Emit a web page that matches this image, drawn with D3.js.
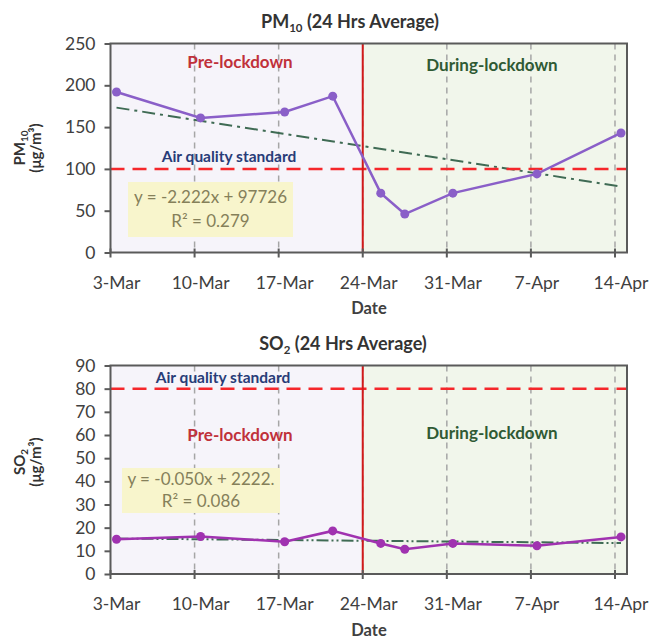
<!DOCTYPE html>
<html>
<head>
<meta charset="utf-8">
<script src="https://cdn.jsdelivr.net/npm/d3@7"></script>
<style>
  body { margin: 0; background: #fff; }
  svg { display: block; font-family: Lato, "Open Sans", sans-serif; }
</style>
</head>
<body>
<svg id="chart" width="653" height="641"></svg>
<script>
// ---- data ----
const dates = ["2020-03-03", "2020-03-10", "2020-03-17", "2020-03-21", "2020-03-25",
  "2020-03-27", "2020-03-31", "2020-04-07", "2020-04-14"];
const pm10Values = [192, 161, 168, 187, 71, 46, 71, 94, 143];
const so2Values = [15.0, 16.2, 13.9, 18.6, 13.2, 10.7, 13.2, 12.2, 16.0];

const tickDates = ["2020-03-03", "2020-03-10", "2020-03-17", "2020-03-24",
  "2020-03-31", "2020-04-07", "2020-04-14"];
const tickLabels = ["3-Mar", "10-Mar", "17-Mar", "24-Mar", "31-Mar", "7-Apr", "14-Apr"];
const axisStart = "2020-03-03";
const axisEnd = "2020-04-15";
const lockdownDate = "2020-03-24";

const pm10Ticks = [0, 50, 100, 150, 200, 250];
const so2Ticks = [0, 10, 20, 30, 40, 50, 60, 70, 80, 90];
const pm10Standard = 100;
const so2Standard = 80;
const pm10Equation = ["y = -2.222x + 97726", "R² = 0.279"];
const so2Equation = ["y = -0.050x + 2222.", "R² = 0.086"];

// ---- layout ----
const svg = d3.select("#chart");
const HALF_DAY = 12 * 3600 * 1000;
const parse = d3.utcParse("%Y-%m-%d");

const x = d3.scaleUtc()
  .domain([parse(axisStart), parse(axisEnd)])
  .range([110.5, 627]);

// least squares fit on the plotted points (Excel linear trendline)
function fitLine(xs, ys) {
  const mx = d3.mean(xs), my = d3.mean(ys);
  const sxy = d3.sum(xs, (v, i) => (v - mx) * (ys[i] - my));
  const sxx = d3.sum(xs, (v) => (v - mx) ** 2);
  const slope = sxy / sxx;
  return (v) => my + slope * (v - mx);
}

function drawPanel(cfg) {
  const g = svg.append("g");
  const y = d3.scaleLinear().domain([0, cfg.max]).range([cfg.bottom, cfg.top]);
  const left = x.range()[0], right = x.range()[1];
  const xLock = x(parse(lockdownDate));

  // shaded periods
  g.append("rect").attr("x", left).attr("y", cfg.top)
    .attr("width", xLock - left).attr("height", cfg.bottom - cfg.top)
    .attr("fill", "#f6f4fa");
  g.append("rect").attr("x", xLock).attr("y", cfg.top)
    .attr("width", right - xLock).attr("height", cfg.bottom - cfg.top)
    .attr("fill", "#f1f6eb");

  // weekly dashed gridlines
  g.selectAll("line.grid")
    .data(tickDates.slice(1))
    .join("line")
    .attr("class", "grid")
    .attr("x1", (d) => x(parse(d))).attr("x2", (d) => x(parse(d)))
    .attr("y1", cfg.top).attr("y2", cfg.bottom)
    .attr("stroke", "#a6a6a6").attr("stroke-width", 1.5)
    .attr("stroke-dasharray", "6,5");

  // equation box
  const box = g.append("g");
  box.append("rect")
    .attr("x", cfg.box[0]).attr("y", cfg.box[1])
    .attr("width", cfg.box[2]).attr("height", cfg.box[3])
    .attr("fill", "#f8f5cc");
  box.selectAll("text")
    .data(cfg.equation)
    .join("text")
    .attr("x", cfg.box[0] + cfg.box[2] / 2)
    .attr("y", (d, i) => cfg.box[1] + cfg.box[3] / 2 + (i - 0.5) * cfg.eqGap)
    .attr("dy", "0.35em")
    .attr("text-anchor", "middle")
    .attr("font-size", 17)
    .attr("fill", "#85805a")
    .text((d) => d);

  // trend line
  const px = dates.map((d) => +parse(d) + HALF_DAY);
  const trend = fitLine(px, cfg.values);
  const ends = [px[0], px[px.length - 1]];
  g.append("line")
    .attr("x1", x(ends[0])).attr("y1", y(trend(ends[0])))
    .attr("x2", x(ends[1])).attr("y2", y(trend(ends[1])))
    .attr("stroke", "#3f6b54").attr("stroke-width", 2)
    .attr("stroke-dasharray", cfg.trendDash);

  // standard line
  g.append("line")
    .attr("x1", left).attr("x2", right)
    .attr("y1", y(cfg.standard)).attr("y2", y(cfg.standard))
    .attr("stroke", "#f5272b").attr("stroke-width", 2.5)
    .attr("stroke-dasharray", "14,8");
  g.append("text")
    .attr("x", cfg.stdLabel[0]).attr("y", cfg.stdLabel[1])
    .attr("dy", "0.35em").attr("text-anchor", "middle")
    .attr("font-size", 15.5).attr("font-weight", "bold")
    .attr("fill", "#283c78")
    .text("Air quality standard");

  // lockdown line
  g.append("line")
    .attr("x1", xLock).attr("x2", xLock)
    .attr("y1", cfg.top).attr("y2", cfg.bottom)
    .attr("stroke", "#d11a1a").attr("stroke-width", 2);

  // period labels
  g.append("text")
    .attr("x", 240).attr("y", cfg.periodY[0])
    .attr("dy", "0.35em").attr("text-anchor", "middle")
    .attr("font-size", 17).attr("font-weight", "bold")
    .attr("fill", "#c0313a")
    .text("Pre-lockdown");
  g.append("text")
    .attr("x", 492).attr("y", cfg.periodY[1])
    .attr("dy", "0.35em").attr("text-anchor", "middle")
    .attr("font-size", 17).attr("font-weight", "bold")
    .attr("fill", "#2f5a34")
    .text("During-lockdown");

  // series
  const line = d3.line()
    .x((d, i) => x(px[i]))
    .y((d) => y(d));
  g.append("path")
    .datum(cfg.values)
    .attr("d", line)
    .attr("fill", "none")
    .attr("stroke", cfg.color).attr("stroke-width", 2.5);
  g.selectAll("circle.pt")
    .data(cfg.values)
    .join("circle")
    .attr("class", "pt")
    .attr("cx", (d, i) => x(px[i])).attr("cy", (d) => y(d))
    .attr("r", 4.5)
    .attr("fill", cfg.color);

  // frame
  g.append("rect")
    .attr("x", left).attr("y", cfg.top)
    .attr("width", right - left).attr("height", cfg.bottom - cfg.top)
    .attr("fill", "none").attr("stroke", "#5a5a5a").attr("stroke-width", 2);

  // y axis
  const yAxis = d3.axisLeft(y).tickValues(cfg.ticks).tickSize(6).tickPadding(9);
  const ya = g.append("g").attr("transform", `translate(${left},0)`).call(yAxis);
  ya.select(".domain").remove();
  ya.selectAll(".tick line").attr("stroke", "#5a5a5a").attr("stroke-width", 2);
  ya.selectAll(".tick text")
    .attr("font-size", 17.5).attr("fill", "#404040")
    .attr("font-family", "Lato, sans-serif");

  // x axis: ticks on week boundaries, labels centred on the day
  const xa = g.append("g").attr("transform", `translate(0,${cfg.bottom})`);
  xa.selectAll("line")
    .data(tickDates)
    .join("line")
    .attr("x1", (d) => x(parse(d))).attr("x2", (d) => x(parse(d)))
    .attr("y1", -4).attr("y2", 5)
    .attr("stroke", "#5a5a5a").attr("stroke-width", 2);
  xa.selectAll("text")
    .data(tickDates)
    .join("text")
    .attr("x", (d) => x(+parse(d) + HALF_DAY))
    .attr("y", 30).attr("dy", "0.35em")
    .attr("text-anchor", "middle")
    .attr("font-size", 17.5).attr("fill", "#404040")
    .text((d, i) => tickLabels[i]);
  xa.append("text")
    .attr("x", 369).attr("y", 56).attr("dy", "0.35em")
    .attr("text-anchor", "middle")
    .attr("font-size", 16.5).attr("font-weight", "bold").attr("fill", "#404040")
    .text("Date");

  // title
  const title = g.append("text")
    .attr("x", cfg.titleX).attr("y", cfg.top - 22).attr("dy", "0.35em")
    .attr("text-anchor", "middle")
    .attr("font-size", 18).attr("font-weight", "bold").attr("fill", "#333");
  title.append("tspan").text(cfg.name);
  title.append("tspan").attr("font-size", 11.5).attr("dy", 4).text(cfg.sub);
  title.append("tspan").attr("dy", -4).text(" (24 Hrs Average)");

  // y label, two rotated lines
  const yl = g.append("text")
    .attr("transform", `translate(25,${cfg.labelY}) rotate(-90)`)
    .attr("text-anchor", "middle")
    .attr("font-size", 15).attr("font-weight", "bold").attr("fill", "#333");
  const l1 = yl.append("tspan").attr("x", 0).attr("dy", 0);
  l1.append("tspan").text(cfg.name);
  l1.append("tspan").attr("font-size", 10).attr("dy", 3).text(cfg.sub);
  yl.append("tspan").attr("x", 0).attr("dy", 13).text("(μg/m³)");
}

drawPanel({
  name: "PM", sub: "10", values: pm10Values, color: "#8a5fc8",
  max: 250, ticks: pm10Ticks, top: 43.5, bottom: 252.5,
  standard: pm10Standard, stdLabel: [229, 157],
  equation: pm10Equation, box: [128, 182, 165, 55], eqGap: 24,
  periodY: [62, 65], titleX: 350, labelY: 148, trendDash: "13,5,3,5"
});

drawPanel({
  name: "SO", sub: "2", values: so2Values, color: "#a032b0",
  max: 90, ticks: so2Ticks, top: 365.5, bottom: 574,
  standard: so2Standard, stdLabel: [223, 378],
  equation: so2Equation, box: [122, 468, 158, 45], eqGap: 22,
  periodY: [435, 433], titleX: 343, labelY: 462, trendDash: "12,3,2,3,2,3"
});
</script>
</body>
</html>
